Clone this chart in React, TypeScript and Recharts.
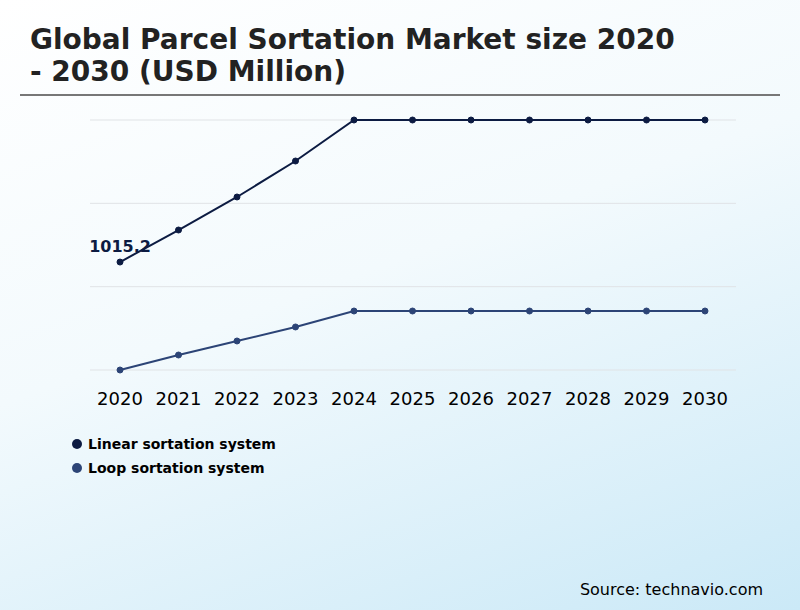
import React from 'react';
import { LineChart, Line, XAxis, YAxis, CartesianGrid } from 'recharts';

// Years on the x axis
const years = ['2020', '2021', '2022', '2023', '2024', '2025', '2026', '2027', '2028', '2029', '2030'];

// Market size by system type (USD million)
const linearSystem = [1015.2, 1145.5, 1279.8, 1426.2, 1593, 1593, 1593, 1593, 1593, 1593, 1593];
const loopSystem = [576, 637, 694, 751, 816, 816, 816, 816, 816, 816, 816];

// Hidden value axis: domain and grid ticks
const yDomain = [576, 1593];
const yTicks = [576, 915, 1254, 1593];

const seriesNames = ['Linear sortation system', 'Loop sortation system'];
const seriesColors = ['#0c1b42', '#2c4476'];

const data = years.map((year, i) => ({
    year,
    linear: linearSystem[i],
    loop: loopSystem[i],
}));

const font = '"DejaVu Sans", Verdana, sans-serif';

const renderFirstLabel = (props: any) => {
    const { x, y, index, value } = props;
    if (index !== 0) return null;
    return (
        <text
            x={x}
            y={y - 10}
            textAnchor="middle"
            fontFamily={font}
            fontSize={16}
            fontWeight="bold"
            fill={seriesColors[0]}
        >
            {value}
        </text>
    );
};

export default function App() {
    return (
        <div
            style={{
                position: 'fixed',
                left: 0,
                top: 0,
                width: 800,
                height: 610,
                overflow: 'hidden',
                background: 'linear-gradient(160deg, #ffffff 0%, #f3fafd 45%, #cbe9f7 100%)',
                fontFamily: font,
            }}
        >
            <div
                style={{
                    position: 'absolute',
                    left: 30,
                    top: 24,
                    fontSize: 28,
                    fontWeight: 'bold',
                    color: '#222',
                    lineHeight: '32px',
                }}
            >
                Global Parcel Sortation Market size 2020
                <br />- 2030 (USD Million)
            </div>
            <div
                style={{
                    position: 'absolute',
                    left: 20,
                    top: 94,
                    width: 760,
                    height: 2,
                    background: '#777',
                }}
            />

            <div style={{ position: 'absolute', left: 0, top: 0 }}>
                <LineChart
                    width={800}
                    height={420}
                    data={data}
                    margin={{ top: 120, right: 64, bottom: 20, left: 90 }}
                >
                    <CartesianGrid vertical={false} stroke="#e0e3e6" />
                    <XAxis
                        dataKey="year"
                        axisLine={false}
                        tickLine={false}
                        height={30}
                        tickMargin={16}
                        padding={{ left: 30, right: 31 }}
                        tick={{ fontSize: 18, fill: '#000', fontFamily: font }}
                        interval={0}
                    />
                    <YAxis hide domain={yDomain} ticks={yTicks} />
                    <Line
                        type="linear"
                        dataKey="linear"
                        name={seriesNames[0]}
                        stroke={seriesColors[0]}
                        strokeWidth={2}
                        dot={{ r: 3, fill: seriesColors[0], stroke: seriesColors[0], strokeWidth: 1 }}
                        activeDot={false}
                        label={renderFirstLabel}
                        isAnimationActive={false}
                    />
                    <Line
                        type="linear"
                        dataKey="loop"
                        name={seriesNames[1]}
                        stroke={seriesColors[1]}
                        strokeWidth={2}
                        dot={{ r: 3, fill: seriesColors[1], stroke: seriesColors[1], strokeWidth: 1 }}
                        activeDot={false}
                        isAnimationActive={false}
                    />
                </LineChart>
            </div>

            {/* legend */}
            <div style={{ position: 'absolute', left: 72, top: 432 }}>
                {seriesNames.map((name, i) => (
                    <div key={name} style={{ display: 'flex', alignItems: 'center', height: 24 }}>
                        <span
                            style={{
                                width: 10,
                                height: 10,
                                borderRadius: '50%',
                                background: seriesColors[i],
                                display: 'inline-block',
                                marginRight: 6,
                            }}
                        />
                        <span style={{ fontSize: 14, fontWeight: 'bold', color: '#000' }}>{name}</span>
                    </div>
                ))}
            </div>

            <div
                style={{
                    position: 'absolute',
                    right: 37,
                    top: 580,
                    fontSize: 16,
                    color: '#000',
                }}
            >
                Source: technavio.com
            </div>
        </div>
    );
}
